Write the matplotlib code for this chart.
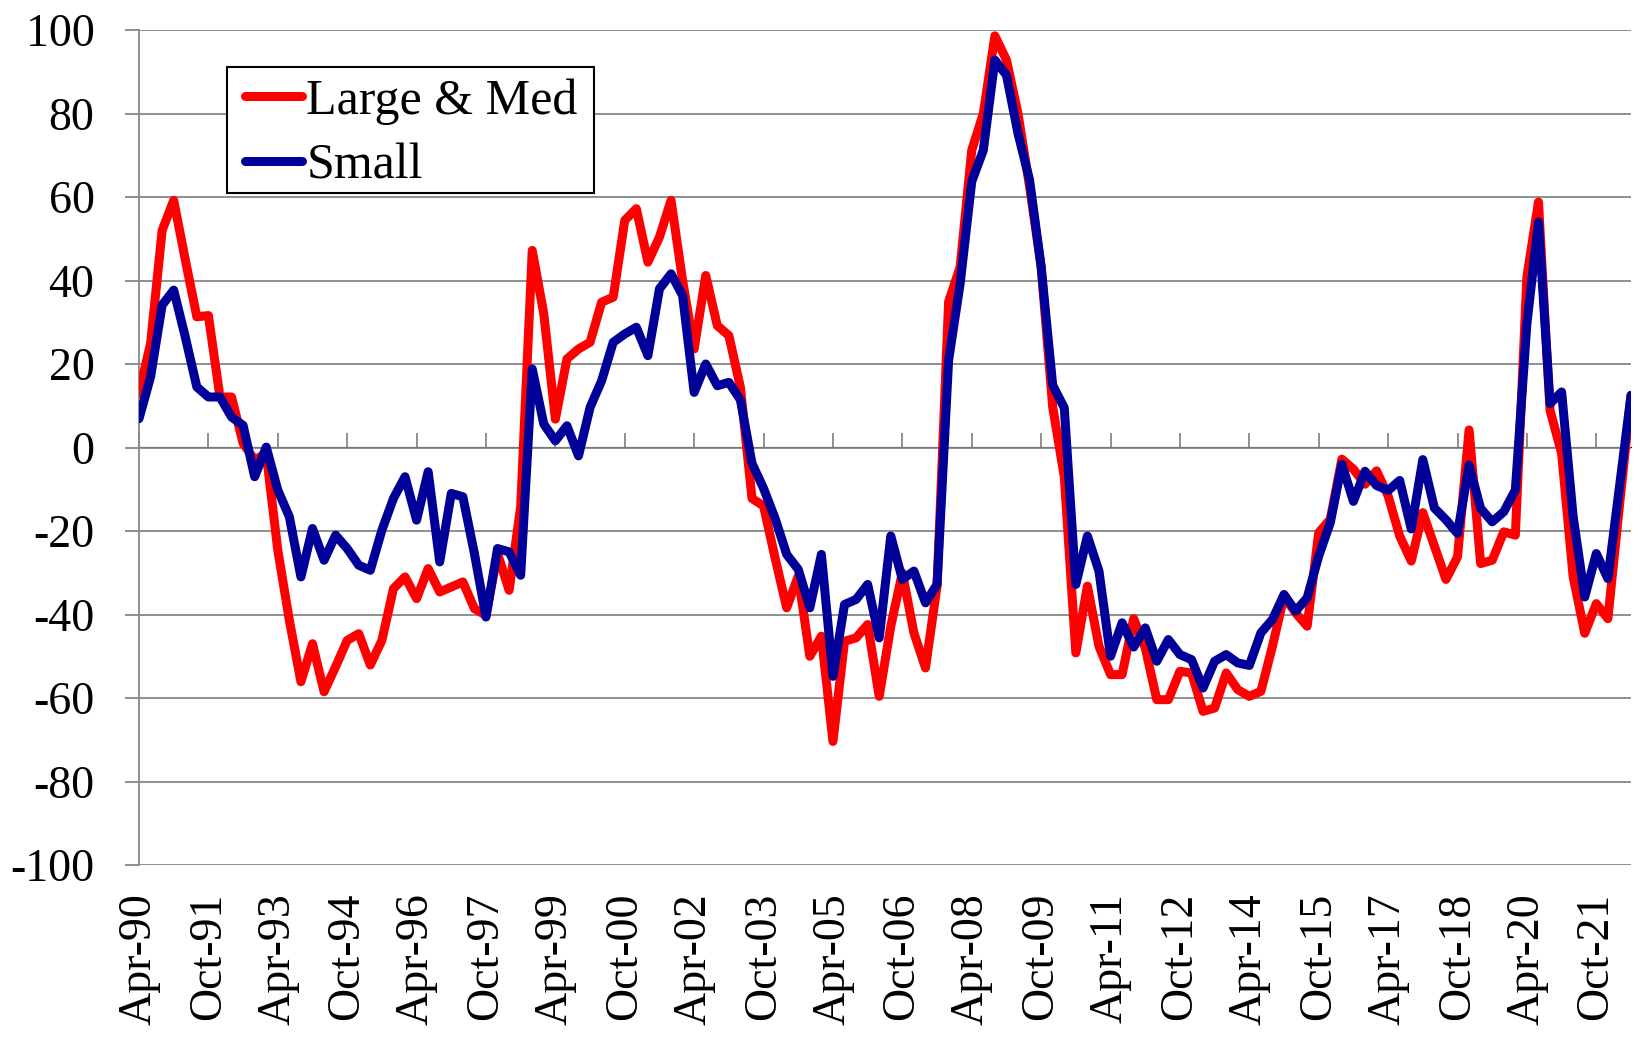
import matplotlib
matplotlib.use("Agg")
import matplotlib.pyplot as plt
from matplotlib.patches import Rectangle

plt.rcParams['font.family'] = ['Liberation Serif', 'DejaVu Serif']
plt.rcParams['axes.unicode_minus'] = False

# Quarterly data, Apr-90 .. Jul-22
large_med = [13.0, 24.9, 52, 59.2, 45, 31.3, 31.6, 12.1, 12.1, 1,
             -3, -1.4, -24.6, -41.4, -56.1, -47, -58.5, -52.5, -46.2, -44.6,
             -52.1, -46.2, -33.8, -31, -36.2, -29, -34.6, -33.4, -32.2, -38.6,
             -40.2, -25.4, -34.2, -14.2, 47.2, 32, 6.8, 21.2, 23.6, 25.2,
             34.8, 36, 54.4, 57.2, 44.4, 50.4, 59.2, 40, 23.6, 41.2,
             29.2, 26.8, 14.4, -12.2, -14, -26.5, -38.4, -30.8, -50, -45.2,
             -70.4, -46.4, -45.6, -42.4, -59.6, -42.8, -30, -44.4, -52.8, -33.2,
             34.9, 43.3, 71.2, 80, 98.6, 92.8, 80, 62.5, 43.3, 9.7,
             -7, -49.2, -33.2, -47.6, -54.4, -54.4, -41, -48, -60.4, -60.4,
             -53.6, -54, -63.2, -62.4, -54, -58, -59.6, -58.4, -47.6, -35.6,
             -39.6, -42.8, -20.4, -17.2, -2.8, -5.2, -8.8, -5.6, -11.6, -21.2,
             -27.2, -15.6, -23.6, -31.6, -26.2, 4.2, -27.8, -27, -20.2, -21,
             40.9, 58.8, 8.9, -1.4, -31, -44.5, -37.4, -41, -14, 12.5]

small = [6.9, 16.9, 34.1, 37.7, 26.5, 14.5, 12.1, 12.1, 7.3, 5.3,
         -7, 0.1, -10.2, -16.6, -31, -19.4, -27, -21, -24.2, -28.2,
         -29.4, -19.8, -12.2, -7, -17.4, -5.8, -27.4, -11, -11.8, -25.4,
         -40.6, -24.2, -25, -30.6, 18.8, 5.6, 1.6, 5.2, -2, 9.6,
         16, 25.2, 27.2, 28.8, 22, 38, 41.6, 36.4, 13.2, 20,
         14.8, 15.6, 11.4, -3.8, -9.8, -17, -25.6, -29.2, -38.4, -25.6,
         -54.8, -37.6, -36.4, -32.8, -45.6, -21.2, -31.6, -29.6, -37.2, -32.8,
         20.9, 39.3, 63.7, 71.2, 92.8, 89.2, 75.2, 64.1, 43.3, 14.9,
         9.5, -32.8, -21.2, -29.6, -50, -42, -47.8, -43.2, -51.2, -46,
         -49.6, -50.8, -57.6, -51.2, -49.6, -51.6, -52.2, -44.4, -41.2, -35.2,
         -39.2, -36, -26, -18, -4, -12.9, -5.7, -9.1, -10.3, -7.9,
         -19.5, -2.9, -14.5, -17.3, -20.6, -4.2, -14.6, -17.8, -15.4, -10.2,
         29.7, 54, 10.5, 13.3, -16.6, -35.8, -25.4, -31.4, -9.5, 12.5]

tick_labels = ["Apr-90", "Oct-91", "Apr-93", "Oct-94", "Apr-96", "Oct-97",
               "Apr-99", "Oct-00", "Apr-02", "Oct-03", "Apr-05", "Oct-06",
               "Apr-08", "Oct-09", "Apr-11", "Oct-12", "Apr-14", "Oct-15",
               "Apr-17", "Oct-18", "Apr-20", "Oct-21"]
label_step = 6
y_ticks = [-100, -80, -60, -40, -20, 0, 20, 40, 60, 80, 100]
series_names = ["Large & Med", "Small"]

GRID = '#878787'
RED = '#FF0000'
BLUE = '#000099'
LW = 6.5

fig = plt.figure(figsize=(16.42, 10.39), dpi=100)
ax = fig.add_axes([139/1642, 1 - 865/1039, 1492/1642, 835/1039])

x = list(range(len(large_med)))
ax.plot(x, large_med, color=RED, lw=LW, solid_joinstyle='round',
        solid_capstyle='round', label=series_names[0], zorder=3)
ax.plot(x, small, color=BLUE, lw=LW, solid_joinstyle='round',
        solid_capstyle='round', label=series_names[1], zorder=4)

ax.set_xlim(0, len(large_med) - 1)
ax.set_ylim(-100, 100)

# y axis
ax.set_yticks(y_ticks)
ax.set_yticklabels([str(v) for v in y_ticks])
ax.yaxis.grid(True, color=GRID, lw=1.3)
ax.set_axisbelow(True)
ax.tick_params(axis='y', direction='out', length=10, width=1.3, color=GRID,
               labelsize=33, pad=22)

# x axis: labels at bottom, no ticks there
xt = [i * label_step for i in range(len(tick_labels))]
ax.set_xticks(xt)
ax.set_xticklabels(tick_labels, rotation=90, ha='center', va='top')
ax.tick_params(axis='x', length=0, labelsize=33, pad=20)

for s in ['top', 'right', 'bottom']:
    ax.spines[s].set_visible(False)
ax.spines['left'].set_color(GRID)
ax.spines['left'].set_linewidth(1.3)

# category axis line at y=0 with downward ticks
sec = ax.secondary_xaxis(0.5)
sec.set_xticks(xt)
sec.set_xticklabels([])
sec.tick_params(axis='x', direction='out', length=10, width=1.3, color=GRID)
sec.spines['bottom'].set_color(GRID)
sec.spines['bottom'].set_linewidth(1.3)

# legend box
box = Rectangle((0.059, 0.8048), 0.246, 0.1509, transform=ax.transAxes,
                facecolor='white', edgecolor='black', lw=1.5, zorder=9)
ax.add_patch(box)
leg = ax.legend(loc='upper left', bbox_to_anchor=(0.0710, 0.9420),
                borderaxespad=0, fontsize=36, frameon=False,
                handlelength=1.15, handletextpad=0.08, borderpad=0,
                labelspacing=0.36)
for h in leg.get_lines():
    h.set_linewidth(LW)
leg.set_zorder(10)

fig.savefig('out.png', dpi=100)
